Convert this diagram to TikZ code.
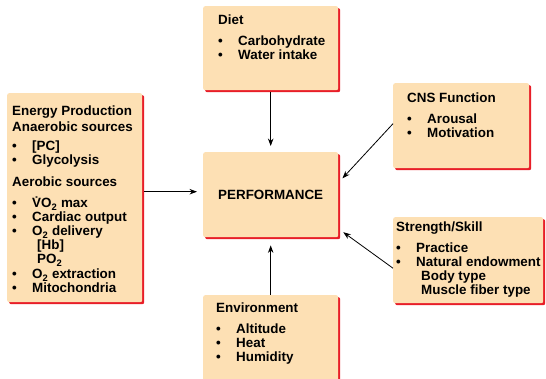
\documentclass[tikz,border=0pt]{standalone}
\usepackage{fontspec}
\setmainfont{Liberation Sans}
\usepackage{tikz}
\usetikzlibrary{arrows.meta,shadows}
\definecolor{peach}{RGB}{253,224,180}
\definecolor{shadowred}{RGB}{232,30,40}
\tikzset{
  box/.style={fill=peach, rounded corners=2pt, anchor=north west, inner sep=0pt,
    general shadow={fill=shadowred, shadow xshift=2pt, shadow yshift=-2pt}},
  txt/.style={anchor=north west, align=left, inner sep=0pt,
    font=\fontsize{13.4}{14}\selectfont\bfseries},
  arr/.style={-{Stealth[length=7.5pt,width=5.5pt]}, line width=0.8pt, shorten >=6pt}
}
\newcommand{\bul}[1]{\makebox[20pt][l]{\textbullet}#1}
\newcommand{\sub}{\hspace*{25pt}}

\begin{document}
\begin{tikzpicture}[x=1pt,y=-1pt]
    \useasboundingbox (0,0) rectangle (546,379);
    \clip (0,0) rectangle (546,379);

    % boxes
    \node [box, minimum width=135pt, minimum height=84pt] (diet) at (203,6) {};
    \node [box, minimum width=135pt, minimum height=209pt] (energy) at (7,93) {};
    \node [txt, box, align=center, minimum width=135pt, minimum height=85pt] (perf) at (203,152) {PERFORMANCE};
    \node [box, minimum width=136pt, minimum height=85pt] (cns) at (393,83) {};
    \node [box, minimum width=150pt, minimum height=86pt] (strength) at (393,217) {};
    \node [box, minimum width=135pt, minimum height=100pt] (env) at (203,295) {};

    % texts
    \node [txt] (diettxt) at (218,15) {Diet\\[7pt]
        \bul{Carbohydrate}\\ \bul{Water intake}};
    \node [txt] (energytxt) at (12,106) {Energy Production\\[2pt]
        Anaerobic sources\\[5pt]
        \bul{[PC]}\\ \bul{Glycolysis}\\[8pt]
        Aerobic sources\\[7pt]
        \bul{\.{V}O\textsubscript{2} max}\\
        \bul{Cardiac output}\\
        \bul{O\textsubscript{2} delivery}\\
        \sub[Hb]\\
        \sub PO\textsubscript{2}\\[1pt]
        \bul{O\textsubscript{2} extraction}\\
        \bul{Mitochondria}};
    \node [txt] (cnstxt) at (407,93) {CNS Function\\[7pt]
        \bul{Arousal}\\ \bul{Motivation}};
    \node [txt] (strengthtxt) at (396,222) {Strength/Skill\\[7pt]
        \bul{Practice}\\ \bul{Natural endowment}\\
        \sub Body type\\ \sub Muscle fiber type};
    \node [txt] (envtxt) at (216,303) {Environment\\[7pt]
        \bul{Altitude}\\ \bul{Heat}\\ \bul{Humidity}};

    % arrows
    \coordinate (in1) at ([yshift=3pt]perf.west);
    \draw [arr] ([yshift=-2pt]diet.south) -- (perf.north);
    \draw [arr] ([xshift=2pt]energy.east |- in1) -- (in1);
    \draw [arr] ([yshift=2pt]cns.west) -- ([yshift=12pt]perf.east);
    \draw [arr] ([yshift=-8pt]strength.west) -- ([yshift=-34pt]perf.east);
    \draw [arr] (env.north) -- ([yshift=-2pt]perf.south);

\end{tikzpicture}
\end{document}
